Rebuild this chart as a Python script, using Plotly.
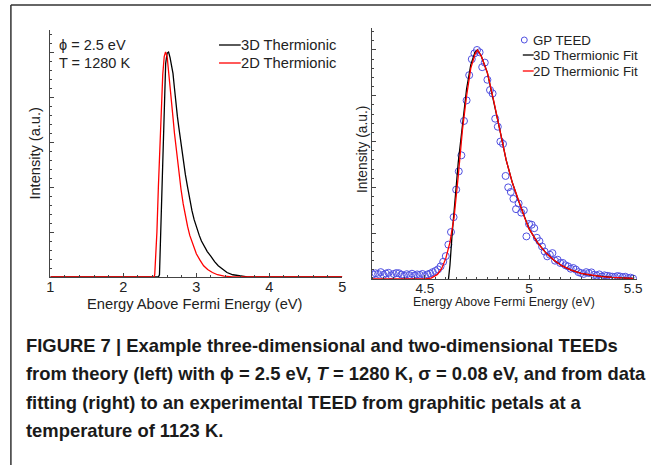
import plotly.graph_objects as go

W, H = 659, 465

# ---------------- Left panel: theory ----------------
e3d_left = [1.00, 2.48, 2.495, 2.505, 2.52, 2.54, 2.56, 2.58, 2.60, 2.62, 2.64, 2.66, 2.68,
            2.70, 2.72, 2.74, 2.76, 2.78, 2.80, 2.82, 2.85, 2.88, 2.91, 2.94, 2.97, 3.00,
            3.04, 3.07, 3.10, 3.15, 3.20, 3.25, 3.30, 3.36, 3.42, 3.50, 3.60, 3.70, 5.00]
i3d_left = [0.0, 0.0, 0.01, 0.12, 0.33, 0.60, 0.82, 0.95, 0.995, 1.0, 0.975, 0.945, 0.905,
            0.84, 0.765, 0.715, 0.665, 0.615, 0.57, 0.52, 0.455, 0.40, 0.345, 0.295, 0.255, 0.22,
            0.185, 0.16, 0.14, 0.113, 0.092, 0.068, 0.05, 0.033, 0.02, 0.01, 0.004, 0.001, 0.0]

e2d_left = [1.00, 2.42, 2.43, 2.44, 2.46, 2.48, 2.50, 2.52, 2.54, 2.56, 2.578, 2.60, 2.62,
            2.64, 2.66, 2.68, 2.70, 2.72, 2.74, 2.76, 2.79, 2.82, 2.85, 2.88, 2.91, 2.94,
            2.97, 3.00, 3.05, 3.10, 3.155, 3.22, 3.29, 3.38, 3.50, 5.00]
i2d_left = [0.0, 0.0, 0.01, 0.06, 0.20, 0.40, 0.58, 0.75, 0.90, 0.98, 1.0, 0.98, 0.92,
            0.85, 0.775, 0.71, 0.64, 0.58, 0.52, 0.463, 0.39, 0.325, 0.27, 0.225, 0.185, 0.155,
            0.128, 0.103, 0.075, 0.05, 0.033, 0.02, 0.01, 0.004, 0.001, 0.0]

left_xticks = [1, 2, 3, 4, 5]

# ---------------- Right panel: experiment + fits ----------------
e_data = [4.2500, 4.2625, 4.2750, 4.2875, 4.3000, 4.3125, 4.3250, 4.3375, 4.3500, 4.3625,
          4.3750, 4.3875, 4.4000, 4.4125, 4.4250, 4.4375, 4.4500, 4.4625, 4.4750, 4.4875,
          4.5000, 4.5125, 4.5250, 4.5375, 4.5500, 4.5625, 4.5750, 4.5875, 4.6000, 4.6125,
          4.6250, 4.6375, 4.6500, 4.6625, 4.6750, 4.6875, 4.7000, 4.7125, 4.7250, 4.7375,
          4.7500, 4.7625, 4.7750, 4.7875, 4.8000, 4.8125, 4.8250, 4.8375, 4.8500, 4.8625,
          4.8750, 4.8875, 4.9000, 4.9125, 4.9250, 4.9375, 4.9500, 4.9625, 4.9750, 4.9875,
          5.0000, 5.0125, 5.0250, 5.0375, 5.0500, 5.0625, 5.0750, 5.0875, 5.1000, 5.1125,
          5.1250, 5.1375, 5.1500, 5.1625, 5.1750, 5.1875, 5.2000, 5.2125, 5.2250, 5.2375,
          5.2500, 5.2625, 5.2750, 5.2875, 5.3000, 5.3125, 5.3250, 5.3375, 5.3500, 5.3625,
          5.3750, 5.3875, 5.4000, 5.4125, 5.4250, 5.4375, 5.4500, 5.4625, 5.4750, 5.4875,
          5.5000]
i_data = [0.020, 0.025, 0.022, 0.030, 0.018, 0.024, 0.027, 0.016, 0.022, 0.026,
          0.025, 0.019, 0.014, 0.021, 0.017, 0.023, 0.015, 0.020, 0.018, 0.022,
          0.013, 0.020, 0.024, 0.030, 0.035, 0.042, 0.055, 0.075, 0.100, 0.150,
          0.205, 0.270, 0.390, 0.470, 0.540, 0.690, 0.780, 0.890, 0.960, 0.985,
          1.000, 0.990, 0.925, 0.945, 0.870, 0.825, 0.810, 0.700, 0.665, 0.600,
          0.590, 0.450, 0.400, 0.380, 0.350, 0.305, 0.330, 0.290, 0.300, 0.186,
          0.240, 0.237, 0.222, 0.180, 0.165, 0.142, 0.120, 0.099, 0.106, 0.113,
          0.080, 0.084, 0.070, 0.070, 0.060, 0.055, 0.045, 0.048, 0.041, 0.030,
          0.026, 0.022, 0.030, 0.026, 0.029, 0.018, 0.015, 0.020, 0.011, 0.016,
          0.014, 0.012, 0.010, 0.009, 0.013, 0.011, 0.008, 0.010, 0.004, 0.006,
          0.002]

e_fit3d = [4.613, 4.62, 4.63, 4.64, 4.65, 4.66, 4.675, 4.69, 4.70, 4.72, 4.74, 4.752,
           4.77, 4.80, 4.83, 4.86, 4.89, 4.92, 4.95, 4.98, 5.00, 5.04, 5.08, 5.12, 5.16,
           5.20, 5.25, 5.30, 5.35, 5.40, 5.45, 5.50]
i_fit3d = [0.0, 0.06, 0.19, 0.31, 0.42, 0.51, 0.63, 0.76, 0.83, 0.935, 0.99, 1.0,
           0.975, 0.90, 0.78, 0.65, 0.52, 0.42, 0.34, 0.265, 0.22, 0.16, 0.115, 0.082, 0.057,
           0.040, 0.025, 0.016, 0.010, 0.007, 0.005, 0.003]

e_fit2d = [4.245, 4.50, 4.53, 4.56, 4.58, 4.60, 4.62, 4.64, 4.66, 4.68, 4.70, 4.72, 4.74,
           4.752, 4.77, 4.80, 4.83, 4.86, 4.89, 4.92, 4.95, 4.98, 5.00, 5.04, 5.08, 5.12,
           5.16, 5.20, 5.25, 5.30, 5.35, 5.40, 5.45, 5.50]
i_fit2d = [0.0, 0.0, 0.004, 0.02, 0.045, 0.09, 0.16, 0.27, 0.45, 0.65, 0.80, 0.92, 0.98,
           1.0, 0.975, 0.90, 0.78, 0.65, 0.52, 0.42, 0.34, 0.265, 0.22, 0.16, 0.115, 0.082,
           0.057, 0.040, 0.025, 0.016, 0.010, 0.007, 0.005, 0.003]

right_xticks = [4.5, 5, 5.5]
right_xticklabels = ["4.5", "5", "5.5"]

FONT = "Liberation Sans, Arial, sans-serif"
AX = "#444444"


def px(x):
    return x / W


def py(y):
    return 1 - y / H


fig = go.Figure()

fig.add_trace(go.Scatter(x=e3d_left, y=i3d_left, mode="lines", line=dict(color="black", width=1.3),
                         xaxis="x", yaxis="y", showlegend=False))
fig.add_trace(go.Scatter(x=e2d_left, y=i2d_left, mode="lines", line=dict(color="#ff0000", width=1.3),
                         xaxis="x", yaxis="y", showlegend=False))

fig.add_trace(go.Scatter(x=e_data, y=i_data, mode="markers",
                         marker=dict(symbol="circle-open", size=7, color="rgb(80,80,225)",
                                     line=dict(width=1, color="rgb(80,80,225)")),
                         xaxis="x2", yaxis="y2", showlegend=False))
fig.add_trace(go.Scatter(x=e_fit3d, y=i_fit3d, mode="lines", line=dict(color="black", width=1.3),
                         xaxis="x2", yaxis="y2", showlegend=False))
fig.add_trace(go.Scatter(x=e_fit2d, y=i_fit2d, mode="lines", line=dict(color="#ff0000", width=1.3),
                         xaxis="x2", yaxis="y2", showlegend=False))

common_x = dict(showline=True, linecolor=AX, linewidth=1, ticks="inside", ticklen=4,
                tickcolor=AX, showgrid=False, zeroline=False, ticklabelstandoff=-3,
                tickfont=dict(family=FONT, size=14.5, color="#222"))
common_y = dict(showline=True, linecolor=AX, linewidth=1, ticks="inside", ticklen=4,
                tickcolor=AX, showgrid=False, zeroline=False, showticklabels=False,
                dtick=0.2, tick0=0,
                minor=dict(ticks="inside", ticklen=2, tickcolor=AX, dtick=0.04, showgrid=False))

fig.update_layout(
    width=W, height=H,
    margin=dict(l=0, r=0, t=0, b=0),
    paper_bgcolor="white", plot_bgcolor="rgba(0,0,0,0)",
    xaxis=dict(domain=[px(47), px(343)], range=[1, 5], anchor="y",
               tickmode="array", tickvals=left_xticks,
               minor=dict(ticks="inside", ticklen=2, tickcolor=AX, dtick=0.2, tick0=1, showgrid=False),
               **common_x),
    yaxis=dict(domain=[py(277), py(30)], range=[0, 1.098], anchor="x", **common_y),
    xaxis2=dict(domain=[px(373), px(642)], range=[4.245, 5.52], anchor="y2",
                tickmode="array", tickvals=right_xticks, ticktext=right_xticklabels,
                minor=dict(ticks="inside", ticklen=2, tickcolor=AX, dtick=0.05, tick0=4.5, showgrid=False),
                **{**common_x, "tickfont": dict(family=FONT, size=13.5, color="#222")}),
    yaxis2=dict(domain=[py(279), py(28)], range=[0, 1.096], anchor="x2", **common_y),
)

ann = []
# axis titles
ann.append(dict(text="Energy Above Fermi Energy (eV)", x=px(194), y=py(304), xref="paper", yref="paper",
                showarrow=False, font=dict(family=FONT, size=14.7, color="#222"), xanchor="center", yanchor="middle"))
ann.append(dict(text="Intensity (a.u.)", x=px(31), y=py(154), xref="paper", yref="paper", textangle=-90,
                showarrow=False, font=dict(family=FONT, size=14.6, color="#222"), xanchor="center", yanchor="middle"))
ann.append(dict(text="Energy Above Fermi Energy (eV)", x=px(507), y=py(302), xref="paper", yref="paper",
                showarrow=False, font=dict(family=FONT, size=12.4, color="#222"), xanchor="center", yanchor="middle"))
ann.append(dict(text="Intensity (a.u.)", x=px(364), y=py(150), xref="paper", yref="paper", textangle=-90,
                showarrow=False, font=dict(family=FONT, size=13.8, color="#222"), xanchor="center", yanchor="middle"))
# parameter text
ann.append(dict(text="ϕ = 2.5 eV", x=px(54), y=py(45), xref="paper", yref="paper", showarrow=False,
                font=dict(family=FONT, size=14.5, color="#222"), xanchor="left", yanchor="middle"))
ann.append(dict(text="T = 1280 K", x=px(54), y=py(63), xref="paper", yref="paper", showarrow=False,
                font=dict(family=FONT, size=14.5, color="#222"), xanchor="left", yanchor="middle"))
# left legend
ann.append(dict(text="3D Thermionic", x=px(238), y=py(45), xref="paper", yref="paper", showarrow=False,
                font=dict(family=FONT, size=14.7, color="#222"), xanchor="left", yanchor="middle"))
ann.append(dict(text="2D Thermionic", x=px(238), y=py(63), xref="paper", yref="paper", showarrow=False,
                font=dict(family=FONT, size=14.7, color="#222"), xanchor="left", yanchor="middle"))
# right legend
for txt, yy in [("GP TEED", 40), ("3D Thermionic Fit", 55), ("2D Thermionic Fit", 71)]:
    ann.append(dict(text=txt, x=px(534), y=py(yy), xref="paper", yref="paper", showarrow=False,
                    font=dict(family=FONT, size=13.3, color="#222"), xanchor="left", yanchor="middle"))

# caption
CAP = "Liberation Sans, Arial, sans-serif"
cap_lines = [
    "FIGURE 7 | Example three-dimensional and two-dimensional TEEDs",
    "from theory (left) with ϕ = 2.5 eV, <i>T</i> = 1280 K, σ = 0.08 eV, and from data",
    "fitting (right) to an experimental TEED from graphitic petals at a",
    "temperature of 1123 K.",
]
for k, line in enumerate(cap_lines):
    ann.append(dict(text="<b>" + line + "</b>", x=px(20), y=py(345 + 28.5 * k), xref="paper", yref="paper",
                    showarrow=False, font=dict(family=CAP, size=18.4, color="#1a1a1a"),
                    xanchor="left", yanchor="middle"))

fig.update_layout(annotations=ann)

shapes = []
# frame (top and left)
shapes.append(dict(type="line", xref="paper", yref="paper", x0=px(7), x1=px(656), y0=py(5), y1=py(5),
                   line=dict(color="#333", width=1.5)))
shapes.append(dict(type="line", xref="paper", yref="paper", x0=px(7), x1=px(7), y0=py(5), y1=py(465),
                   line=dict(color="#333", width=1.5)))
# legend lines
shapes.append(dict(type="line", xref="paper", yref="paper", x0=px(218), x1=px(240), y0=py(45), y1=py(45),
                   line=dict(color="black", width=1.3)))
shapes.append(dict(type="line", xref="paper", yref="paper", x0=px(218), x1=px(240), y0=py(63), y1=py(63),
                   line=dict(color="#ff0000", width=1.3)))
shapes.append(dict(type="line", xref="paper", yref="paper", x0=px(526), x1=px(537), y0=py(55), y1=py(55),
                   line=dict(color="black", width=1.3)))
shapes.append(dict(type="line", xref="paper", yref="paper", x0=px(526), x1=px(537), y0=py(71), y1=py(71),
                   line=dict(color="#ff0000", width=1.3)))
shapes.append(dict(type="circle", xref="paper", yref="paper", x0=px(524.5), x1=px(530.5), y0=py(37), y1=py(43),
                   line=dict(color="rgb(80,80,225)", width=1)))
fig.update_layout(shapes=shapes)

fig.write_html("out.html", config={"displayModeBar": False},
               post_script="document.body.style.margin='0';document.body.style.padding='0';")
